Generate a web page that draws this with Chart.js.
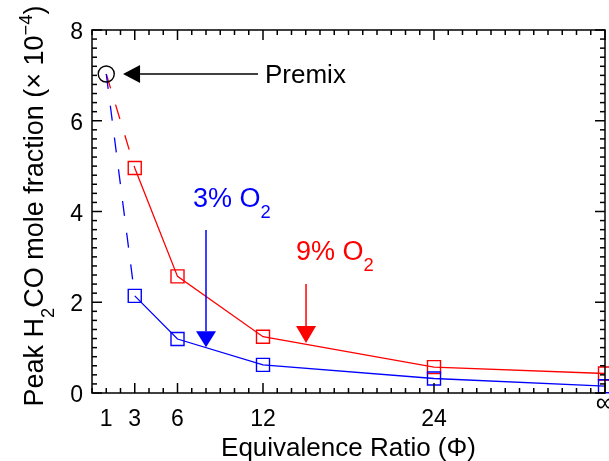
<!DOCTYPE html>
<html>
<head>
<meta charset="utf-8">
<script src="https://cdn.jsdelivr.net/npm/chart.js@4.4.1/dist/chart.umd.min.js"></script>
<style>
  body { margin: 0; background: #fff; }
  canvas { display: block; }
</style>
</head>
<body>
<canvas id="h2co-chart" width="609" height="461"></canvas>
<script>
// equivalence ratio, 36 stands in for infinity
const phiValues = [1, 3, 6, 12, 24, 36];
const h2coO2Low = [7.03, 2.14, 1.19, 0.62, 0.32, 0.15];   // 3% O2
const h2coO2High = [7.03, 4.96, 2.57, 1.24, 0.57, 0.43];  // 9% O2
const premixPhi = [1];
const premixH2co = [7.03];

const xTickValues = [1, 3, 6, 12, 24, 36];
const xTickLabels = ['1', '3', '6', '12', '24', '∞'];
const yTickValues = [0, 2, 4, 6, 8];

const FONT = '"Liberation Sans", Arial, sans-serif';

// arrows and their labels, in data units
const notes = [
  { color: '#000', tip: [2.18, 7.03], tail: [11.65, 7.03], head: [17, 9],
    at: [12.14, 6.83], size: 26, parts: [{ t: 'Premix' }] },
  { color: '#0000ff', tip: [8.0, 1.01], tail: [8.0, 3.59], head: [16, 10],
    at: [7.09, 4.1], size: 27, parts: [{ t: '3% O' }, { t: '2', sub: true }] },
  { color: '#ff0000', tip: [15.02, 1.1], tail: [15.02, 2.4], head: [17, 10],
    at: [14.32, 2.93], size: 27, parts: [{ t: '9% O' }, { t: '2', sub: true }] },
];

function toPoints(xs, ys) {
  return xs.map((x, i) => ({ x: x, y: ys[i] }));
}

// draws text with sub/superscript parts, starting at x (or centred)
function drawRich(ctx, parts, x, y, size, centred) {
  const widths = parts.map(p => {
    ctx.font = `${p.sub || p.sup ? size * 0.68 : size}px ${FONT}`;
    return ctx.measureText(p.t).width;
  });
  let cx = centred ? x - widths.reduce((a, b) => a + b, 0) / 2 : x;
  parts.forEach((p, i) => {
    ctx.font = `${p.sub || p.sup ? size * 0.68 : size}px ${FONT}`;
    let dy = 0;
    if (p.sub) dy = size * 0.4;
    if (p.sup) dy = -size * 0.42;
    ctx.fillText(p.t, cx, y + dy);
    cx += widths[i];
  });
}

function segment(ctx, x1, y1, x2, y2) {
  ctx.beginPath();
  ctx.moveTo(x1, y1);
  ctx.lineTo(x2, y2);
  ctx.stroke();
}

const notesPlugin = {
  id: 'notes',
  afterDatasetsDraw(chart) {
    const { ctx, scales: { x, y } } = chart;
    ctx.save();
    for (const n of notes) {
      const tx = x.getPixelForValue(n.tip[0]), ty = y.getPixelForValue(n.tip[1]);
      const sx = x.getPixelForValue(n.tail[0]), sy = y.getPixelForValue(n.tail[1]);
      const len = Math.hypot(tx - sx, ty - sy);
      const ux = (tx - sx) / len, uy = (ty - sy) / len;
      const bx = tx - ux * n.head[0], by = ty - uy * n.head[0];
      ctx.strokeStyle = n.color;
      ctx.fillStyle = n.color;
      ctx.lineWidth = 1.5;
      segment(ctx, sx, sy, bx, by);
      ctx.beginPath();
      ctx.moveTo(tx, ty);
      ctx.lineTo(bx - uy * n.head[1], by + ux * n.head[1]);
      ctx.lineTo(bx + uy * n.head[1], by - ux * n.head[1]);
      ctx.closePath();
      ctx.fill();
      ctx.textAlign = 'left';
      ctx.textBaseline = 'alphabetic';
      drawRich(ctx, n.parts, x.getPixelForValue(n.at[0]), y.getPixelForValue(n.at[1]), n.size, false);
    }
    ctx.restore();
  }
};

const framePlugin = {
  id: 'frame',
  afterDraw(chart) {
    const { ctx, chartArea: a, scales: { x, y } } = chart;
    ctx.save();
    ctx.strokeStyle = '#000';
    ctx.lineWidth = 1.5;
    ctx.strokeRect(a.left, a.top, a.right - a.left, a.bottom - a.top);

    // inward ticks on all four sides
    for (let v = 0; v <= 36; v++) {
      const px = x.getPixelForValue(v);
      const len = xTickValues.includes(v) && v !== 1 ? 10 : 5;
      segment(ctx, px, a.bottom, px, a.bottom - len);
      segment(ctx, px, a.top, px, a.top + len);
    }
    for (let i = 0; i <= 40; i++) {
      const py = y.getPixelForValue(i / 5);
      const len = i % 10 === 0 ? 10 : 5;
      segment(ctx, a.left, py, a.left + len, py);
      segment(ctx, a.right, py, a.right - len, py);
    }

    ctx.fillStyle = '#000';
    ctx.textAlign = 'center';
    xTickValues.forEach((v, i) => {
      const px = x.getPixelForValue(v);
      if (xTickLabels[i] === '∞') {
        ctx.font = `26px ${FONT}`;
        ctx.textBaseline = 'middle';
        ctx.fillText(xTickLabels[i], px, 404);
      } else {
        ctx.font = `23px ${FONT}`;
        ctx.textBaseline = 'alphabetic';
        ctx.fillText(xTickLabels[i], px, 426);
      }
    });
    ctx.font = `23px ${FONT}`;
    ctx.textAlign = 'right';
    ctx.textBaseline = 'alphabetic';
    yTickValues.forEach(v => {
      ctx.fillText(String(v), a.left - 9, y.getPixelForValue(v) + 9);
    });

    // axis titles
    ctx.textAlign = 'left';
    drawRich(ctx, [{ t: 'Equivalence Ratio (Φ)' }], (a.left + a.right) / 2, 456, 26, true);
    ctx.translate(43, 206);
    ctx.rotate(-Math.PI / 2);
    drawRich(ctx, [
      { t: 'Peak H' }, { t: '2', sub: true }, { t: 'CO mole fraction (× 10' },
      { t: '−4', sup: true }, { t: ')' }
    ], 0, 0, 27, true);
    ctx.restore();
  }
};

const squares = phiValues.map((v, i) => (i === 0 ? 0 : 9.2));

const seriesStyle = (color) => ({
  borderColor: color,
  backgroundColor: 'rgba(0,0,0,0)',
  borderWidth: 1.3,
  pointStyle: 'rect',
  pointRadius: squares,
  pointBorderColor: color,
  pointBorderWidth: 1.4,
  clip: false,
  tension: 0,
  segment: {
    borderDash: c => (c.p0DataIndex === 0 ? [15, 17] : [])
  }
});

new Chart(document.getElementById('h2co-chart'), {
  type: 'line',
  data: {
    datasets: [
      {
        label: 'Premix',
        data: toPoints(premixPhi, premixH2co),
        showLine: false,
        pointStyle: 'circle',
        pointRadius: 8,
        pointBorderColor: '#000',
        pointBackgroundColor: 'rgba(0,0,0,0)',
        pointBorderWidth: 1.4,
        clip: false,
      },
      { label: '3% O2', data: toPoints(phiValues, h2coO2Low), ...seriesStyle('#0000ff') },
      { label: '9% O2', data: toPoints(phiValues, h2coO2High), ...seriesStyle('#ff0000') },
    ],
  },
  options: {
    responsive: false,
    animation: false,
    layout: { autoPadding: false, padding: { left: 92, right: 4, top: 30, bottom: 68 } },
    plugins: { legend: { display: false }, tooltip: { enabled: false } },
    scales: {
      x: { type: 'linear', display: false, min: 0, max: 36 },
      y: { type: 'linear', display: false, min: 0, max: 8 },
    },
  },
  plugins: [notesPlugin, framePlugin],
});
</script>
</body>
</html>
